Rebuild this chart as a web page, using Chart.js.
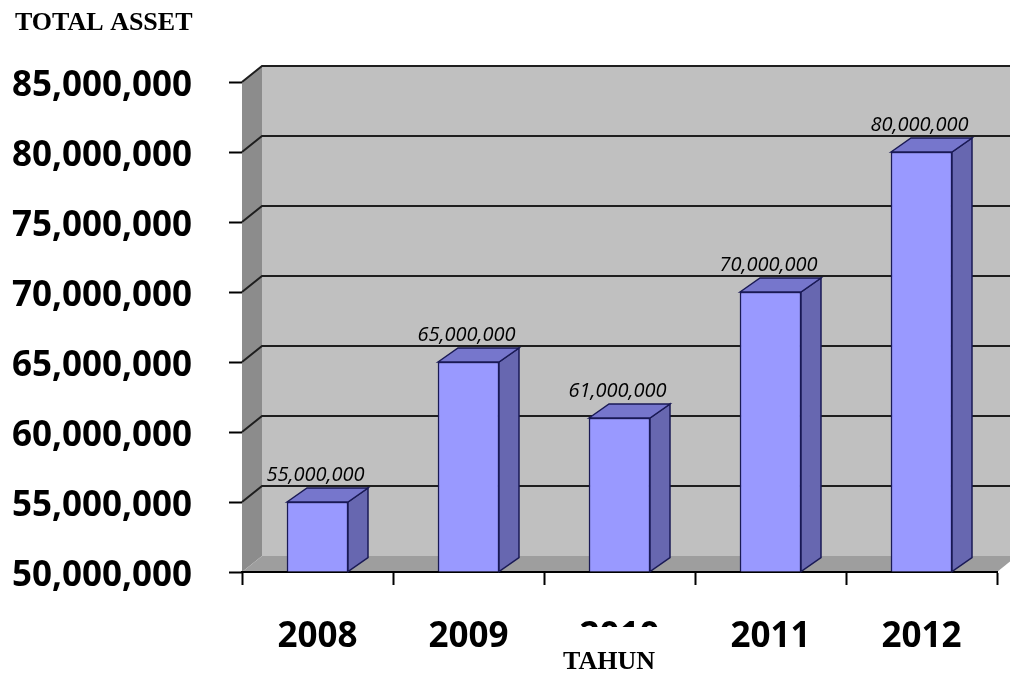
<!DOCTYPE html>
<html>
<head>
<meta charset="utf-8">
<script src="https://cdn.jsdelivr.net/npm/chart.js@4.4.1/dist/chart.umd.min.js"></script>
<style>
  html, body { margin: 0; padding: 0; background: #fff; }
</style>
</head>
<body>
<canvas id="chart" width="1010" height="673"></canvas>
<script>
// Data
const years = ['2008', '2009', '2010', '2011', '2012']
const totalAsset = [55000000, 65000000, 61000000, 70000000, 80000000]
const yMin = 50000000
const yMax = 85000000
const yStep = 5000000
const yTitle = 'TOTAL ASSET'
const xTitle = 'TAHUN'

// 3D look (Excel style walls and bars)
const wallDepth = { dx: 20, dy: -16 }
const barDepth = { dx: 20, dy: -14 }
const colors = {
  backWall: '#c0c0c0',
  sideWall: '#8c8c8c',
  floor: '#9e9e9e',
  grid: '#1e1e1e',
  barFront: '#9999ff',
  barSide: '#6767b0',
  barTop: '#7676cc',
  barEdge: '#1a1a55'
}

const fmt = (v) => v.toLocaleString('en-US')

function poly(ctx, pts, fill, stroke) {
  ctx.beginPath()
  ctx.moveTo(pts[0][0], pts[0][1])
  pts.slice(1).forEach(p => ctx.lineTo(p[0], p[1]))
  ctx.closePath()
  ctx.fillStyle = fill
  ctx.fill()
  if (stroke) {
    ctx.strokeStyle = stroke
    ctx.lineWidth = 1.5
    ctx.stroke()
  }
}

const wallsPlugin = {
  id: 'walls',
  beforeDraw(chart) {
    const { ctx, chartArea: a, scales: { y } } = chart
    const { dx, dy } = wallDepth
    ctx.save()
    poly(ctx, [[a.left + dx, a.top + dy], [a.right + dx, a.top + dy], [a.right + dx, a.bottom + dy], [a.left + dx, a.bottom + dy]], colors.backWall)
    poly(ctx, [[a.left, a.top], [a.left + dx, a.top + dy], [a.left + dx, a.bottom + dy], [a.left, a.bottom]], colors.sideWall)
    poly(ctx, [[a.left, a.bottom], [a.right, a.bottom], [a.right + dx, a.bottom + dy], [a.left + dx, a.bottom + dy]], colors.floor)

    // gridlines run along the side wall and the back wall
    ctx.strokeStyle = colors.grid
    ctx.lineWidth = 2
    y.ticks.forEach(t => {
      if (t.value === y.min) return
      const py = y.getPixelForValue(t.value)
      ctx.beginPath()
      ctx.moveTo(a.left, py)
      ctx.lineTo(a.left + dx, py + dy)
      ctx.lineTo(a.right + dx, py + dy)
      ctx.stroke()
    })
    ctx.restore()
  }
}

const barFacesPlugin = {
  id: 'barFaces',
  afterDatasetsDraw(chart) {
    const { ctx, chartArea } = chart
    const { dx, dy } = barDepth
    const meta = chart.getDatasetMeta(0)
    ctx.save()
    meta.data.forEach((bar, i) => {
      const { x, y, base, width } = bar.getProps(['x', 'y', 'base', 'width'], true)
      const b = Math.min(base, chartArea.bottom)
      const l = x - width / 2
      const r = x + width / 2
      poly(ctx, [[r, y], [r + dx, y + dy], [r + dx, b + dy], [r, b]], colors.barSide, colors.barEdge)
      poly(ctx, [[l, y], [l + dx, y + dy], [r + dx, y + dy], [r, y]], colors.barTop, colors.barEdge)

      ctx.fillStyle = '#000'
      ctx.font = 'italic 20px "Open Sans"'
      ctx.textAlign = 'center'
      ctx.textBaseline = 'alphabetic'
      ctx.fillText(fmt(totalAsset[i]), x - 2, y + dy - 7)
    })
    ctx.restore()
  }
}

const titlesPlugin = {
  id: 'titles',
  afterDraw(chart) {
    const { ctx } = chart
    ctx.save()
    ctx.fillStyle = '#000'
    ctx.font = 'bold 26px "Liberation Serif"'
    ctx.textBaseline = 'alphabetic'
    ctx.textAlign = 'left'
    ctx.fillText(yTitle, 15, 30)

    // the axis title box sits over part of the middle year label, as in the original
    ctx.fillStyle = '#fff'
    ctx.fillRect(562, 627, 112, 46)
    ctx.fillStyle = '#000'
    ctx.textAlign = 'center'
    ctx.fillText(xTitle, 609, 669)
    ctx.restore()
  }
}

const ctx = document.getElementById('chart').getContext('2d')
new Chart(ctx, {
  type: 'bar',
  data: {
    labels: years,
    datasets: [{
      label: yTitle,
      data: totalAsset,
      base: yMin,
      backgroundColor: colors.barFront,
      borderColor: colors.barEdge,
      borderWidth: 1.5,
      barThickness: 61
    }]
  },
  options: {
    responsive: false,
    animation: false,
    layout: {
      padding: { top: 82, right: 13, left: 0, bottom: 0 }
    },
    plugins: {
      legend: { display: false },
      tooltip: { enabled: false }
    },
    scales: {
      x: {
        afterFit: (s) => { s.height = 101 },
        grid: {
          drawOnChartArea: false,
          drawTicks: true,
          tickLength: 13,
          tickColor: '#000',
          tickWidth: 2
        },
        border: { display: true, color: '#000', width: 2 },
        ticks: {
          autoSkip: false,
          maxRotation: 0,
          padding: 31,
          color: '#000',
          font: { family: 'Open Sans', size: 35, weight: 'bold' }
        }
      },
      y: {
        min: yMin,
        max: yMax,
        afterFit: (s) => { s.width = 242 },
        grid: {
          drawOnChartArea: false,
          drawTicks: true,
          tickLength: 13,
          tickColor: '#000',
          tickWidth: 2
        },
        border: { display: false },
        ticks: {
          stepSize: yStep,
          padding: 37,
          labelOffset: 4,
          color: '#000',
          font: { family: 'Open Sans', size: 35, weight: 'bold' },
          callback: (value) => fmt(value)
        }
      }
    }
  },
  plugins: [wallsPlugin, barFacesPlugin, titlesPlugin]
})
</script>
</body>
</html>
